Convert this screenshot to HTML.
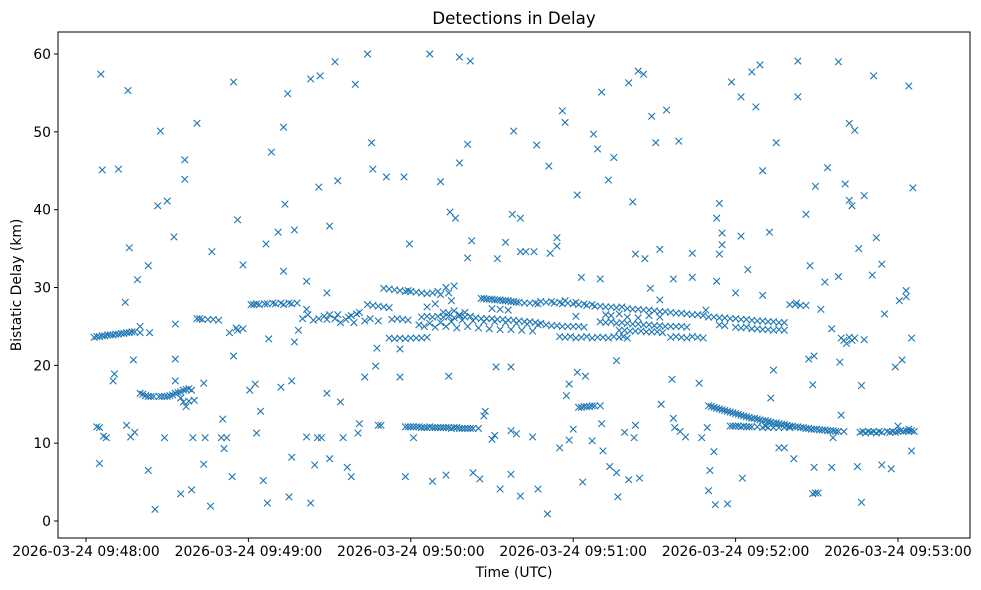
<!DOCTYPE html>
<html><head><meta charset="utf-8"><style>
html,body{margin:0;padding:0;background:#fff;}
svg{display:block;font-family:"DejaVu Sans","Liberation Sans",sans-serif;}
</style></head><body>
<svg id="chart" width="981" height="590" viewBox="0 0 981 590">
<rect x="0" y="0" width="981" height="590" fill="#fff"/>
<text x="514" y="24" font-size="16.7" text-anchor="middle" fill="#000">Detections in Delay</text>
<text x="514" y="577" font-size="13.9" text-anchor="middle" fill="#000">Time (UTC)</text>
<text transform="translate(21,285) rotate(-90)" font-size="13.9" text-anchor="middle" fill="#000">Bistatic Delay (km)</text>
<g id="marks"></g>
<g id="axes"></g>
<rect x="58" y="32" width="912" height="506" fill="none" stroke="#000" stroke-width="1"/>
</svg>
<script>
const xTickSeconds = [0,60,120,180,240,300];
const xTickLabels = ["2026-03-24 09:48:00","2026-03-24 09:49:00","2026-03-24 09:50:00","2026-03-24 09:51:00","2026-03-24 09:52:00","2026-03-24 09:53:00"];
const yTickValues = [0,10,20,30,40,50,60];
const scatterDetections = [[5.5,57.4],[6,45.1],[12,45.2],[15.5,55.3],[5,7.4],[4,12.1],[5,12],[6.5,10.9],[7.5,10.7],[10,18],[10.5,18.9],[14.5,28.1],[16,35.1],[15,12.3],[16.5,10.8],[17.5,20.7],[19,31],[18,11.4],[20,25],[23,32.8],[23,6.5],[25.5,1.5],[26.5,40.5],[27.5,50.1],[30,41.1],[29,10.7],[32.5,36.5],[33,18],[33,20.8],[33,25.3],[35,3.5],[36.5,43.9],[36.5,46.4],[39,4],[41,51.1],[39.5,10.7],[43.5,17.7],[43.5,7.3],[44,10.7],[46,1.9],[46.5,34.6],[50,10.7],[50.5,13.1],[51,9.3],[52,10.7],[53,24.2],[54.5,56.4],[54.5,21.2],[55.5,24.8],[56,38.7],[54,5.7],[58,32.9],[60.5,16.8],[62.5,17.6],[63,11.3],[64.5,14.1],[65.5,5.2],[67,2.3],[67.5,23.4],[66.5,35.6],[68.5,47.4],[71,37.1],[73,50.6],[73,32.1],[73.5,40.7],[74.5,54.9],[72,17.2],[75,3.1],[76,8.2],[76,18],[77,37.4],[77,23],[78.5,24.5],[81.5,27.2],[81.5,30.8],[81.5,10.8],[83,56.8],[83,2.3],[84.5,7.2],[85.5,10.7],[86,42.9],[86.5,57.2],[87,10.7],[89,16.4],[90,37.9],[89,29.3],[90,8],[92,59],[93,43.7],[94,15.3],[95,10.7],[96.5,6.9],[98,5.7],[99.5,56.1],[100.5,11.3],[101,12.5],[103,18.5],[104,60],[105.5,48.6],[106,45.2],[107.5,22.2],[107,19.9],[108,12.3],[109,12.3],[111,44.2],[116,22.1],[116,18.5],[117.5,44.2],[118,5.7],[119.5,35.6],[121,10.7],[127,60],[128,5.1],[131,43.6],[133,5.9],[134,18.6],[134.5,39.7],[135,28.3],[136.5,38.9],[138,46],[138,59.6],[141,48.4],[142,59.1],[142.5,36],[141,33.8],[143,6.2],[145.5,5.4],[147.5,14.1],[147,13.5],[150,10.5],[151,11],[151.5,19.8],[152,33.7],[153,4.1],[155,35.8],[157,6],[157,19.8],[157,11.6],[159,11.2],[157.5,39.4],[158,50.1],[160.5,38.9],[160.5,3.2],[160.5,34.6],[162.5,34.6],[165,10.8],[165.5,34.6],[166.5,48.3],[167,4.1],[170.5,0.9],[171,45.6],[171.5,34.4],[174,36.4],[174,35.3],[175,9.4],[176,52.7],[177,51.2],[177.5,16.1],[178.5,17.6],[178.5,10.4],[180,11.8],[181,26.3],[181.5,41.9],[181.5,19.1],[183,31.3],[183.5,5],[184.5,18.6],[187,10.3],[187.5,49.7],[189,47.8],[190,31.1],[190.5,55.1],[190.5,12.5],[191,9],[193,43.8],[193.5,7],[195,46.7],[196,6.2],[196,20.6],[196.5,3.1],[198.5,23.7],[199,11.4],[200.5,5.3],[200.5,56.3],[202,41],[202.5,10.7],[203,12.3],[203,34.3],[204,57.8],[204.5,5.5],[206,57.4],[206.5,33.7],[208.5,29.9],[209,52],[210.5,48.6],[212,28.4],[212,34.9],[212.5,15],[214.5,52.8],[216.5,18.2],[217,31.1],[217,13.2],[217.5,12],[219,48.8],[219.5,11.5],[221.5,10.8],[224,34.4],[224,31.3],[226.5,17.7],[229,27.1],[227.5,10.7],[229.5,12],[230,3.9],[230.5,6.5],[232.5,2.1],[232,8.9],[233,38.9],[234,40.8],[234,34.3],[233,30.8],[235,37],[235,35.5],[237,2.2],[238.5,56.4],[240,29.3],[242,54.5],[242,36.6],[242.5,5.5],[244.5,32.3],[246,57.7],[247.5,53.2],[249,58.6],[250,29],[251,12.2],[250,45],[252.5,37.1],[253,15.8],[254,19.4],[255,48.6],[256,9.4],[258,9.4],[261.5,8],[262.5,28],[263,59.1],[263,54.5],[266,39.4],[267,20.8],[267.5,32.8],[268.5,17.5],[269,6.9],[268.5,3.5],[269,21.2],[269.5,3.6],[270.5,3.6],[269.5,43],[271.5,27.2],[273,30.7],[274,45.4],[275.5,24.7],[276,10.7],[275.5,6.9],[278,59],[278,31.4],[278.5,20.4],[279,13.6],[280.5,43.3],[282,41.2],[283,40.5],[282,51.1],[284,50.2],[285,7],[285.5,35],[286.5,2.4],[286.5,17.4],[287.5,41.8],[287.5,23.3],[290.5,31.6],[291,57.2],[292,36.4],[294,33],[294,7.2],[295,26.6],[297.5,6.7],[299,19.8],[300.5,28.3],[301.5,20.7],[303,29.6],[303,28.8],[304,55.9],[305,23.5],[305.5,42.8],[305,9]];
const trackDetections = [[3,23.6],[4,23.7],[5,23.7],[6,23.8],[7,23.8],[8,23.9],[9,23.9],[10,23.9],[11,24],[12,24],[13,24.1],[14,24.1],[15,24.2],[16,24.2],[17,24.3],[18,24.3],[20,24.2],[23.5,24.2],
[20,16.4],[21,16.3],[22,16.1],[23,16],[24,16],[25,16],[27,16],[28,16],[29,16],[30,16],[31,16.1],[32,16.2],[33,16.4],[34,16.5],[35,16.6],[36,16.8],[37,16.9],[38,17],[35,15.8],[36,15.3],[37,14.7],[38,15.4],[40,15.5],[39,16.8],
[41,26],[42,26],[43,25.9],[45,25.9],[47,25.9],[49,25.8],[56,24.5],[58,24.7],
[61,27.8],[62,27.8],[63,27.9],[64,27.8],[66,27.9],[67,27.9],[69,28],[70,27.9],[72,28],[73,27.8],[75,28],[76,27.9],[78,28],
[80,26],[82,26.5],[84,25.8],[86,26],[88,26.3],[89,25.9],[90,26.5],[92,26],[93,26.5],[94,25.5],[96,25.9],[97,26.2],[99,25.5],[100,26.6],[101,26.8],[98,26.4],
[104,27.8],[106,27.7],[108,27.6],[110,27.5],[112,27.4],[103,25.7],[105,26],[108,25.7],
[110,29.9],[112,29.8],[114,29.7],[116,29.6],[118,29.5],[119,29.6],[120,29.5],[122,29.4],[124,29.3],[126,29.2],[128,29.3],[130,29.5],[133,30],[134,29.3],[136,30.2],[131,29.1],
[112,23.5],[114,23.4],[116,23.5],[118,23.4],[120,23.5],[122,23.5],[124,23.5],[126,23.6],[113,25.9],[115,26],[117,25.9],[119,25.8],
[118,12.1],[119,12.1],[120,12.1],[121,12.1],[122,12.1],[123,12.1],[124,12],[125,12],[126,12],[127,12.1],[128,12],[129,12],[130,12],[131,12],[132,12],[133,12],[134,12],[135,11.9],[136,12],[137,12],[138,11.9],[139,11.9],[140,11.9],[141,11.9],[142,11.9],[143,11.9],[145,11.9],
[123,25.2],[124,26.2],[125,25],[126,26.3],[127,25.4],[128,26.2],[129,24.9],[130,26.3],[131,25.5],[132,26.2],[133,25],[134,26.3],[135,25.6],[136,26.1],[137,24.8],[138,26.4],[139,25.8],[140,26.2],[141,25],[142,26.3],[143,25.7],[144,26.1],[145,24.8],[146,26],[147,25.6],[148,26],[149,24.7],[150,26],[151,25.6],[152,25.9],[153,24.6],[154,25.9],[155,25.5],[156,25.8],[157,24.6],[158,25.8],[159,25.4],[160,25.7],[161,24.5],[162,25.6],[163,25.3],[164,25.6],[165,24.4],[166,25.5],[167,25.2],[168,25.4],[132,26.8],[134,26.7],[136,27],[138,26.5],[140,26.8],[126,27.5],[129,27.9],
[146,28.6],[147,28.6],[148,28.5],[149,28.5],[150,28.5],[151,28.4],[152,28.4],[153,28.4],[154,28.3],[155,28.3],[156,28.3],[157,28.2],[158,28.2],[159,28.1],[160,28.1],[162,28],[164,28],[166,28],[167,27.9],[150,27.3],[153,27.2],[156,27.1],
[168,28.2],[170,28.1],[172,28.2],[173,28],[175,28.1],[176,27.9],[177,28.3],[178,28],[180,27.9],[181,28.1],[182,27.8],[184,27.9],[185,27.7],[187,27.8],[188,27.6],[190,27.6],[192,27.5],[194,27.5],[196,27.4],[198,27.5],[200,27.3],[202,27.2],[204,27.2],[206,27.1],[208,27.1],[210,27],[212,26.9],[214,26.9],[216,26.8],[218,26.7],[220,26.7],[222,26.6],[224,26.5],[226,26.5],[228,26.4],
[170,25.2],[172,25.1],[174,25.1],[176,25],[178,25],[180,25],[182,25],[184,24.9],[175,23.7],[177,23.6],[179,23.7],[181,23.5],[183,23.6],[185,23.7],[187,23.5],[189,23.6],[191,23.6],[193,23.5],[195,23.7],[197,23.6],[200,23.5],
[182,14.6],[183,14.6],[184,14.7],[185,14.7],[186,14.7],[187,14.8],[188,14.8],[190,14.8],
[190,25.6],[192,25.5],[194,25.6],[196,25.4],[198,25.5],[200,25.4],[202,25.3],[204,25.3],[206,25.2],[208,25.2],[210,25.1],[212,25.1],[214,25],[216,25],[218,25],[220,25],[222,24.9],[197,24.5],[199,24.5],[201,24.4],[203,24.4],[205,24.4],[207,24.3],[209,24.3],[211,24.3],[213,24.2],[192,26.5],[194,26.4],[197,26.6],[200,26.2],[204,26.1],[208,26.4],[212,26.2],
[216,23.6],[218,23.7],[220,23.6],[222,23.5],[224,23.7],[226,23.6],[228,23.5],
[230,26.2],[232,26.2],[234,26.1],[236,26.1],[238,26],[240,26],[242,25.9],[244,25.9],[246,25.8],[248,25.7],[250,25.7],[252,25.6],[254,25.6],[256,25.5],[258,25.5],[240,24.9],[242,24.8],[244,24.9],[246,24.7],[248,24.7],[250,24.6],[252,24.6],[254,24.5],[256,24.6],[258,24.5],[234,25.2],[236,25.1],
[230,14.8],[231,14.7],[232,14.6],[233,14.5],[234,14.4],[235,14.3],[236,14.2],[237,14.1],[238,14],[239,13.9],[240,13.8],[241,13.7],[242,13.6],[243,13.5],[244,13.4],[245,13.3],[246,13.2],[247,13.2],[248,13.1],[249,13],[250,12.9],[251,12.9],[252,12.8],[253,12.7],[254,12.6],[255,12.6],[256,12.5],[257,12.4],[258,12.4],[259,12.3],[260,12.2],[261,12.2],[262,12.1],[263,12.1],[264,12],[265,12],[266,11.9],[267,11.9],[268,11.8],[269,11.8],[270,11.8],[271,11.7],[272,11.7],[273,11.7],[274,11.6],[275,11.6],[276,11.6],[277,11.5],[278,11.5],[280,11.5],
[238,12.2],[239,12.2],[240,12.2],[241,12.2],[242,12.1],[243,12.2],[244,12.1],[245,12.1],[246,12.1],[248,12.1],[250,12],[252,12],[254,12],[256,12],[258,12],[260,12],
[260,27.8],[262,27.8],[264,27.7],[266,27.7],
[279,23.5],[280,23.2],[281,22.8],[282,23.6],[283,23.2],[284,23.5],
[286,11.4],[287,11.5],[288,11.3],[289,11.5],[290,11.4],[291,11.5],[292,11.3],[293,11.5],[294,11.4],[296,11.5],[297,11.4],[298,11.5],[299,11.4],[300,11.5],[301,11.6],[302,11.5],[303,11.6],[304,11.5],[305,11.6],[306,11.5],[300,12.2],[304,11.8]];

const L=58,T=32,R=970,B=538;
function xScale(t){return 86 + t*(898-86)/300;}
function yScale(d){return 521 - d*(521-54)/60;}
const NS="http://www.w3.org/2000/svg";
const marks=document.getElementById('marks');
const axes=document.getElementById('axes');
function drawX(p){
  const x=xScale(p[0]), y=yScale(p[1]), s=3.3;
  const path=document.createElementNS(NS,'path');
  path.setAttribute('d',`M${x-s},${y-s}L${x+s},${y+s}M${x-s},${y+s}L${x+s},${y-s}`);
  path.setAttribute('stroke','#1f77b4');
  path.setAttribute('stroke-width','1.1');
  path.setAttribute('fill','none');
  
  
  marks.appendChild(path);
}
scatterDetections.forEach(drawX);
trackDetections.forEach(drawX);
xTickSeconds.forEach((t,i)=>{
  const x=xScale(t);
  const ln=document.createElementNS(NS,'line');
  ln.setAttribute('x1',x);ln.setAttribute('x2',x);ln.setAttribute('y1',B);ln.setAttribute('y2',B+4);
  ln.setAttribute('stroke','#000');
  
  
  axes.appendChild(ln);
  const tx=document.createElementNS(NS,'text');
  tx.setAttribute('x',x);tx.setAttribute('y',B+18);tx.setAttribute('font-size','13.9');tx.setAttribute('text-anchor','middle');
  tx.textContent=xTickLabels[i];
  
  
  axes.appendChild(tx);
});
yTickValues.forEach(v=>{
  const y=yScale(v);
  const ln=document.createElementNS(NS,'line');
  ln.setAttribute('x1',L-4);ln.setAttribute('x2',L);ln.setAttribute('y1',y);ln.setAttribute('y2',y);
  ln.setAttribute('stroke','#000');
  
  
  axes.appendChild(ln);
  const tx=document.createElementNS(NS,'text');
  tx.setAttribute('x',L-7);tx.setAttribute('y',y+5);tx.setAttribute('font-size','13.9');tx.setAttribute('text-anchor','end');
  tx.textContent=String(v);
  
  
  axes.appendChild(tx);
});
</script>
</body></html>
